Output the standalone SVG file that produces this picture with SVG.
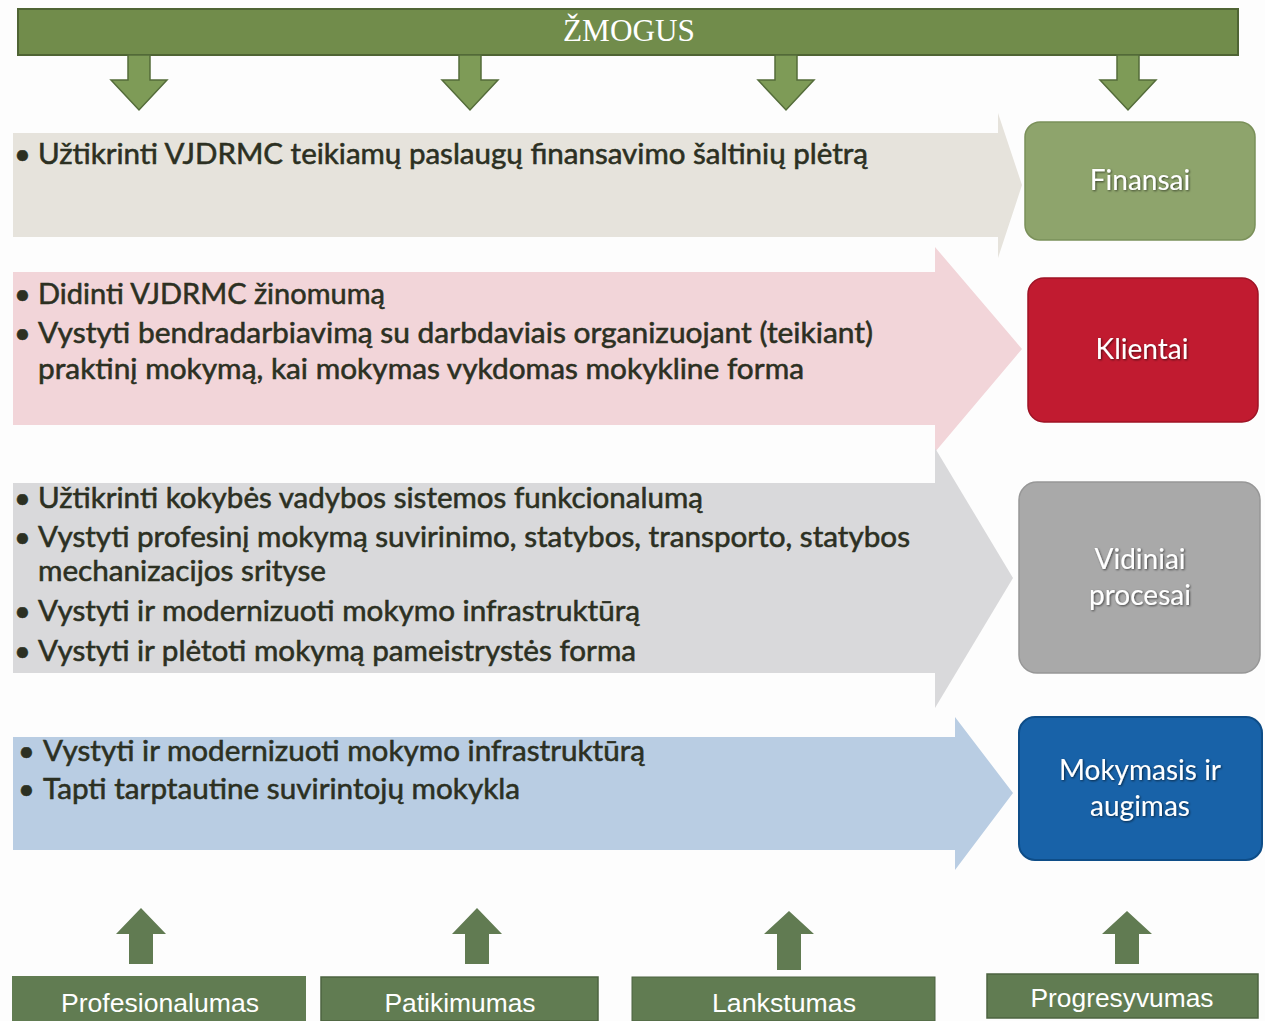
<svg xmlns="http://www.w3.org/2000/svg" width="1265" height="1021" viewBox="0 0 1265 1021">
  <defs>
    <filter id="tshadow" x="-10%" y="-30%" width="120%" height="160%">
      <feDropShadow dx="1" dy="1" stdDeviation="0.8" flood-color="#000" flood-opacity="0.6"/>
    </filter>
  </defs>
  <style>
    .bt { font-family: Lato, "Open Sans", "Liberation Sans", sans-serif; font-size: 29px; fill: #2c3022; stroke: #2c3022; stroke-width: 0.55; }
    .bx { font-family: Lato, "Open Sans", "Liberation Sans", sans-serif; font-size: 28px; fill: #ffffff; text-anchor: middle; }
    .bl { font-family: "Liberation Sans", Arial, sans-serif; font-size: 25px; fill: #ffffff; text-anchor: middle; }
    .dn { fill: #7e9b57; stroke: #546c3a; stroke-width: 1.5; }
    .up { fill: #617b52; }
    .foot { fill: #617c52; }
  </style>
  <rect width="1265" height="1021" fill="#fdfdfd"/>

  <g id="banner">
    <rect x="18" y="9" width="1220" height="46" fill="#718c4b" stroke="#4f6434" stroke-width="2"/>
    <text x="629" y="41" font-family="'Liberation Serif', 'Times New Roman', serif" font-size="32" fill="#ffffff" text-anchor="middle" textLength="132" lengthAdjust="spacingAndGlyphs">ŽMOGUS</text>
  </g>

  <g id="arrow-finansai">
    <path d="M13,133 H998 V113 L1022,185 L998,258 V237 H13 Z" fill="#e6e3dc"/>
    <text class="bt" x="14" y="164">•</text>
    <text class="bt" x="38" y="164" textLength="830" lengthAdjust="spacingAndGlyphs">Užtikrinti VJDRMC teikiamų paslaugų finansavimo šaltinių plėtrą</text>
  </g>

  <g id="arrow-klientai">
    <path d="M13,272 H935 V247 L1022,349 L935,452 V425 H13 Z" fill="#f2d5d9"/>
    <text class="bt" x="14" y="304">•</text>
    <text class="bt" x="38" y="304" textLength="347" lengthAdjust="spacingAndGlyphs">Didinti VJDRMC žinomumą</text>
    <text class="bt" x="14" y="343">•</text>
    <text class="bt" x="38" y="343" textLength="835" lengthAdjust="spacingAndGlyphs">Vystyti bendradarbiavimą su darbdaviais organizuojant (teikiant)</text>
    <text class="bt" x="38" y="379" textLength="766" lengthAdjust="spacingAndGlyphs">praktinį mokymą, kai mokymas vykdomas mokykline forma</text>
  </g>

  <g id="arrow-procesai">
    <path d="M13,483 H935 V448 L1013,578 L935,708 V673 H13 Z" fill="#d9d9db"/>
    <text class="bt" x="14" y="508">•</text>
    <text class="bt" x="38" y="508" textLength="665" lengthAdjust="spacingAndGlyphs">Užtikrinti kokybės vadybos sistemos funkcionalumą</text>
    <text class="bt" x="14" y="547">•</text>
    <text class="bt" x="38" y="547" textLength="872" lengthAdjust="spacingAndGlyphs">Vystyti profesinį mokymą suvirinimo, statybos, transporto, statybos</text>
    <text class="bt" x="38" y="581" textLength="288" lengthAdjust="spacingAndGlyphs">mechanizacijos srityse</text>
    <text class="bt" x="14" y="621">•</text>
    <text class="bt" x="38" y="621" textLength="602" lengthAdjust="spacingAndGlyphs">Vystyti ir modernizuoti mokymo infrastruktūrą</text>
    <text class="bt" x="14" y="661">•</text>
    <text class="bt" x="38" y="661" textLength="598" lengthAdjust="spacingAndGlyphs">Vystyti ir plėtoti mokymą pameistrystės forma</text>
  </g>

  <g id="arrow-mokymasis">
    <path d="M13,737 H955 V717 L1013,793 L955,870 V850 H13 Z" fill="#b9cde3"/>
    <text class="bt" x="18" y="761">•</text>
    <text class="bt" x="43" y="761" textLength="602" lengthAdjust="spacingAndGlyphs">Vystyti ir modernizuoti mokymo infrastruktūrą</text>
    <text class="bt" x="18" y="799">•</text>
    <text class="bt" x="43" y="799" textLength="477" lengthAdjust="spacingAndGlyphs">Tapti tarptautine suvirintojų mokykla</text>
  </g>

  <g id="node-finansai">
    <rect x="1025" y="122" width="230" height="118" rx="15" fill="#8ea46c" stroke="#7a9059" stroke-width="1.5"/>
    <text class="bx" x="1140" y="190" filter="url(#tshadow)">Finansai</text>
  </g>
  <g id="node-klientai">
    <rect x="1028" y="278" width="230" height="144" rx="16" fill="#c11b30" stroke="#9e1325" stroke-width="1.5"/>
    <text class="bx" x="1142" y="359" filter="url(#tshadow)">Klientai</text>
  </g>
  <g id="node-procesai">
    <rect x="1019" y="482" width="241" height="191" rx="18" fill="#a9a9a9" stroke="#979797" stroke-width="1.5"/>
    <text class="bx" x="1140" y="569" filter="url(#tshadow)">Vidiniai</text>
    <text class="bx" x="1140" y="605" filter="url(#tshadow)">procesai</text>
  </g>
  <g id="node-mokymasis">
    <rect x="1019" y="717" width="243" height="143" rx="16" fill="#1862a8" stroke="#0e4d88" stroke-width="2"/>
    <text class="bx" x="1140" y="780" filter="url(#tshadow)">Mokymasis ir</text>
    <text class="bx" x="1140" y="816" filter="url(#tshadow)">augimas</text>
  </g>

  <g id="node-profesionalumas">
    <rect class="foot" x="12" y="976" width="294" height="45"/>
    <text class="bl" x="160" y="1012" textLength="198" lengthAdjust="spacingAndGlyphs">Profesionalumas</text>
  </g>
  <g id="node-patikimumas">
    <rect class="foot" x="321" y="977" width="277" height="44" stroke="#4c6340" stroke-width="1.5"/>
    <text class="bl" x="460" y="1012" textLength="151" lengthAdjust="spacingAndGlyphs">Patikimumas</text>
  </g>
  <g id="node-lankstumas">
    <rect class="foot" x="632" y="977" width="303" height="44" stroke="#4c6340" stroke-width="1"/>
    <text class="bl" x="784" y="1012" textLength="144" lengthAdjust="spacingAndGlyphs">Lankstumas</text>
  </g>
  <g id="node-progresyvumas">
    <rect class="foot" x="987" y="974" width="271" height="44" stroke="#4c6340" stroke-width="1.5"/>
    <text class="bl" x="1122" y="1007" textLength="183" lengthAdjust="spacingAndGlyphs">Progresyvumas</text>
  </g>

  <g id="connectors">
    <path class="dn" d="M128,55 H150 V80 H167 L139,110 L111,80 H128 Z"/>
    <path class="dn" d="M459,55 H481 V80 H498 L470,110 L442,80 H459 Z"/>
    <path class="dn" d="M775,55 H797 V80 H814 L786,110 L758,80 H775 Z"/>
    <path class="dn" d="M1117,55 H1139 V80 H1156 L1128,110 L1100,80 H1117 Z"/>
    <path class="up" d="M141,908 L166,934 H153 V964 H129 V934 H116 Z"/>
    <path class="up" d="M477,908 L502,934 H489 V964 H465 V934 H452 Z"/>
    <path class="up" d="M789,911 L814,934 H801 V970 H777 V934 H764 Z"/>
    <path class="up" d="M1127,911 L1152,934 H1139 V964 H1115 V934 H1102 Z"/>
  </g>
</svg>
